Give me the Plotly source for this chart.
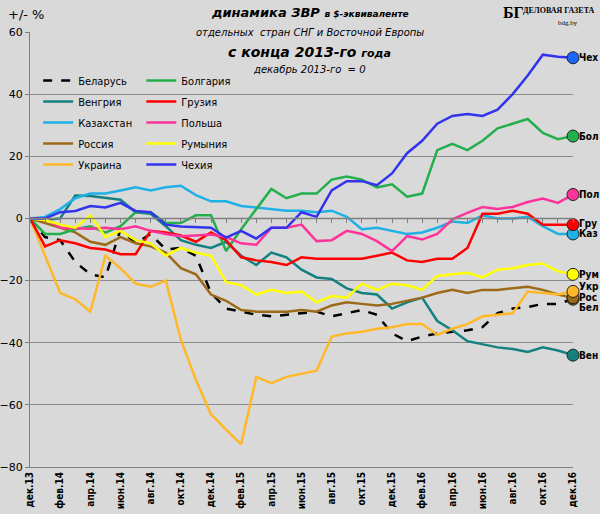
import plotly.graph_objects as go

months = list(range(37))
tick_idx = list(range(0, 37, 2))
tick_labels = ["дек.13", "фев.14", "апр.14", "июн.14", "авг.14", "окт.14", "дек.14", "фев.15", "апр.15",
               "июн.15", "авг.15", "окт.15", "дек.15", "фев.16", "апр.16", "июн.16", "авг.16", "окт.16", "дек.16"]

belarus = [0, -6, -7, -14, -18, -19, -3.5, -8, -5, -10, -9.5, -12, -24, -29, -30, -31, -31.5, -31, -30.5, -30,
           -31.5, -30.5, -29.5, -31, -37, -39.5, -38, -37, -36.5, -36, -35, -30.5, -29, -28.5, -27.5, -27.5, -26]
bulgaria = [0, -5, -5, -3.5, -2.5, -4.6, -2.5, 2, 2, -1.5, -1.5, 1, 1, -10.5, -3.5, 3, 9.5, 6.5, 8, 8, 12.5, 13.5,
            12.5, 10, 11, 7, 8, 22, 24, 22, 25, 29, 30.5, 32, 27.5, 25.5, 26.5]
hungary = [0, -0.5, 0, 7.4, 7.2, 6.5, 6, 2, 1.5, -2.5, -7, -8.5, -9.5, -7.5, -12, -15, -11, -12.5, -16.5, -19, -19.5,
           -22.5, -24, -24.5, -29, -27, -25.5, -33, -36, -39.5, -40.5, -41.5, -42, -43, -41.5, -42.5, -44]
georgia = [0, -9, -7, -8, -9.5, -10, -11.5, -11.5, -4, -4.5, -5.5, -7.5, -4.5, -7, -12.5, -13.5, -14, -15, -12.5, -13,
           -13, -13, -13, -12, -11, -13.5, -14, -13, -13, -9.5, 1.5, 1.5, 2.5, 1.5, -2, -2, -2]
kazakhstan = [0, 0.5, 3, 6.5, 8, 8, 9, 10, 9, 10, 10.5, 7.5, 5.5, 5.5, 4, 3.5, 3, 2.5, 2.5, 2, 2.5, 0.5, -3.5, -3,
              -4, -5, -4.5, -3, -1, -1.5, 1, 0, 0, 0.5, -2.5, -5, -5]
poland = [0, 0, -3, -3.2, -3.3, -3, -3.5, -2.5, -4, -5, -5.7, -5.5, -5.2, -6, -8, -8.5, -3, -3, -2, -7.3, -7, -4, -5,
          -7.3, -10.5, -5.7, -6.8, -5, -0.3, 1.8, 3.7, 3, 3.7, 5.3, 6.4, 5, 7.7]
russia = [0, -1.5, -3, -4.5, -7.5, -8.5, -6, -8, -9, -11, -16, -18, -24.5, -26.5, -29.5, -30, -30, -30, -29.5, -30,
          -28, -27, -27.5, -28, -27.5, -26.5, -25.5, -24, -23, -24, -23, -23, -22.5, -22, -23, -24.5, -25.5]
romania = [0, -0.5, -2, -3, 1, -6, -4, -7, -8, -12, -9.5, -11, -12, -20.5, -21.5, -24.5, -23, -24, -23.5, -27, -25,
           -25.5, -21, -23, -21, -21.5, -23, -18.5, -18, -17.5, -19, -16.5, -16, -15, -14.5, -17, -18]
ukraine = [0, -12, -24, -26, -30, -12, -16, -21, -22, -20, -39, -52, -63, -68, -72.7, -51, -53, -51, -50, -49, -38,
           -37, -36.5, -35.5, -35, -34, -34, -37.5, -35.5, -34, -31.5, -31, -30.5, -23.5, -24, -24.5, -23.5]
czech = [0, 0, 2, 2.4, 4, 3.5, 5, 2.4, 2, -2, -2.6, -2.7, -3, -6.2, -4, -6.5, -3, -3, 2, 0.5, 9, 12, 12, 10.7, 14.5,
         21, 25, 30.5, 33, 33.6, 33, 35, 40, 46, 52.7, 52, 51.7]

series = [
    ("Беларусь", belarus, "#000000", "dash", "Бел", "#8B5A14", "legend", -8),
    ("Венгрия", hungary, "#158080", "solid", "Вен", "#158080", "legend", 0),
    ("Казахстан", kazakhstan, "#1FB0E6", "solid", "Каз", "#1FB0E6", "legend", 0),
    ("Россия", russia, "#9C6A18", "solid", "Рос", "#9C6A18", "legend", 0),
    ("Украина", ukraine, "#FFB828", "solid", "Укр", "#FFB828", "legend", 5),
    ("Болгария", bulgaria, "#22AF4C", "solid", "Бол", "#22AF4C", "legend2", 0),
    ("Грузия", georgia, "#FF0000", "solid", "Гру", "#FF0000", "legend2", 1),
    ("Польша", poland, "#FF3399", "solid", "Пол", "#FF3399", "legend2", 0),
    ("Румыния", romania, "#FFFF00", "solid", "Рум", "#FFFF00", "legend2", 0),
    ("Чехия", czech, "#3333EE", "solid", "Чех", "#1A66FF", "legend2", 0),
]

fig = go.Figure()
for name, vals, col, dash, short, mcol, leg, ysh in series:
    fig.add_trace(go.Scatter(x=months, y=vals, mode="lines", name=name, legend=leg, legendgroup=name,
                             line=dict(color=col, width=2.5, dash=dash)))
annots = []
for name, vals, col, dash, short, mcol, leg, ysh in series:
    fig.add_trace(go.Scatter(x=[months[-1]], y=[vals[-1]], mode="markers", showlegend=False, cliponaxis=False,
                             marker=dict(size=12, color=mcol, line=dict(color="#222", width=1))))
    annots.append(dict(x=months[-1], y=vals[-1], text="<b>" + short + "</b>", showarrow=False, xanchor="left",
                       xshift=4, yshift=ysh, font=dict(size=10, color="#000", family="DejaVu Sans Condensed")))

fig.add_trace(go.Scatter(x=[0, 36], y=[0, 0], xaxis="x2", mode="lines", showlegend=False,
                         line=dict(color="#808080", width=1.5), hoverinfo="skip"))

bg = "#D9D9D9"
TX = 0.515
fig.update_layout(
    width=600, height=514, paper_bgcolor=bg, plot_bgcolor=bg,
    margin=dict(l=30, r=27, t=32, b=47),
    xaxis=dict(range=[0, 36], tickvals=tick_idx, ticktext=["<b>" + t + "</b>" for t in tick_labels],
               tickangle=-90, showgrid=False,
               showline=True, linecolor="#808080", ticks="", zeroline=False, automargin=False,
               tickfont=dict(size=10, family="DejaVu Sans Condensed", color="#000")),
    xaxis2=dict(range=[0, 36], overlaying="x", anchor="free", position=80 / 140, showticklabels=False,
                showgrid=False, showline=False, ticks="outside", ticklen=4, tickcolor="#808080",
                tickvals=months, zeroline=False, automargin=False),
    yaxis=dict(range=[-80, 60], dtick=20, showgrid=True, gridcolor="#8C8C8C", gridwidth=1, zeroline=False,
               showline=True, linecolor="#808080", ticks="outside", ticklen=4, tickcolor="#808080",
               automargin=False, tickfont=dict(size=11, family="DejaVu Sans", color="#000")),
    legend=dict(x=0.015, y=0.922, xanchor="left", yanchor="top", bgcolor="rgba(0,0,0,0)", tracegroupgap=2,
                font=dict(size=11, family="DejaVu Sans Condensed", color="#000")),
    legend2=dict(x=0.205, y=0.922, xanchor="left", yanchor="top", bgcolor="rgba(0,0,0,0)", tracegroupgap=2,
                 font=dict(size=11, family="DejaVu Sans Condensed", color="#000")),
    showlegend=True,
    annotations=annots + [
        dict(xref="paper", yref="paper", x=-0.045, y=1.04, xanchor="left", yanchor="middle", text="+/- %",
             showarrow=False, font=dict(size=13, family="DejaVu Sans", color="#000")),
        dict(xref="paper", yref="paper", x=TX, y=1.044, yanchor="middle",
             text="<b><i>динамика ЗВР <span style='font-size:9px'>в $-эквиваленте</span></i></b>",
             showarrow=False, font=dict(size=13, family="DejaVu Sans", color="#000")),
        dict(xref="paper", yref="paper", x=TX, y=0.998, yanchor="middle",
             text="<i>отдельных  стран СНГ и Восточной Европы</i>",
             showarrow=False, bgcolor=bg, font=dict(size=10, family="DejaVu Sans", color="#000")),
        dict(xref="paper", yref="paper", x=TX, y=0.954, yanchor="middle",
             text="<b><i>с конца 2013-го <span style='font-size:11px'>года</span></i></b>",
             showarrow=False, font=dict(size=14, family="DejaVu Sans", color="#000")),
        dict(xref="paper", yref="paper", x=TX, y=0.913, yanchor="middle", text="<i>декабрь 2013-го  = 0</i>",
             showarrow=False, font=dict(size=10, family="DejaVu Sans", color="#000")),
        dict(xref="paper", yref="paper", x=0.89, y=1.045, xanchor="center", yanchor="middle",
             text="<b>БГ</b>", showarrow=False,
             font=dict(size=16, family="Liberation Serif", color="#000")),
        dict(xref="paper", yref="paper", x=1.045, y=1.05, xanchor="right", yanchor="middle",
             text="<b>ДЕЛОВАЯ ГАЗЕТА</b>", showarrow=False,
             font=dict(size=8, family="Liberation Serif", color="#000")),
        dict(xref="paper", yref="paper", x=0.99, y=1.02, xanchor="center", yanchor="middle",
             text="bdg.by", showarrow=False,
             font=dict(size=7, family="Liberation Serif", color="#000")),
    ],
)
fig.write_html("out.html", config={"displayModeBar": False})
with open("out.html", encoding="utf-8") as f:
    html = f.read()
html = html.replace("<body>", "<body style=\"margin:0\">", 1)
with open("out.html", "w", encoding="utf-8") as f:
    f.write(html)
